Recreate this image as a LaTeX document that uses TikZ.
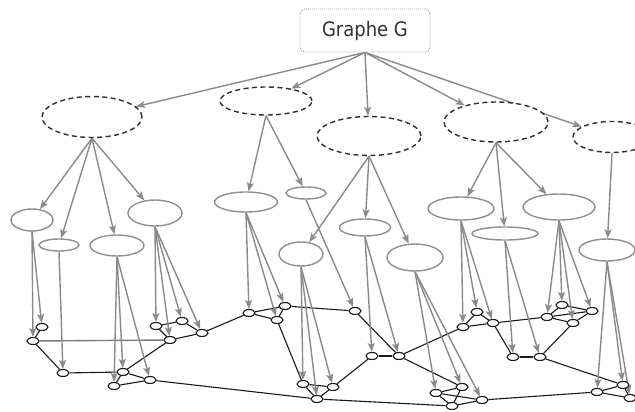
\documentclass[tikz,border=0pt]{standalone}
\usepackage{fontspec}
\newfontfamily\labelfont{DejaVu Sans Condensed}
\usetikzlibrary{shapes.geometric,arrows.meta}
\pgfdeclarelayer{bg}
\pgfsetlayers{bg,main}
\definecolor{arrowgray}{HTML}{8A8A8A}
\definecolor{ringgray}{HTML}{8F8F8F}
\definecolor{dashgray}{HTML}{2E2E2E}
\definecolor{boxgray}{HTML}{A0A0A0}
\definecolor{textgray}{HTML}{333333}
\definecolor{edgeblack}{HTML}{1A1A1A}
\definecolor{spangray}{HTML}{7A7A7A}

\tikzset{
  rootbox/.style={draw=boxgray, dash pattern=on 1pt off 1pt, line width=0.9pt,
    rounded corners=5pt, minimum width=130pt, minimum height=43pt, inner sep=0pt,
    font=\labelfont\fontsize{20}{22}\selectfont, text=textgray, fill=white},
  cluster/.style={ellipse, draw=dashgray, dash pattern=on 5pt off 3.5pt,
    line width=1.4pt, inner sep=0pt, fill=white},
  subpart/.style={ellipse, draw=ringgray, line width=1.4pt, inner sep=0pt, fill=white},
  vertex/.style={ellipse, draw=edgeblack, line width=1.1pt, minimum width=12pt,
    minimum height=7pt, inner sep=0pt, fill=white},
  link/.style={draw=arrowgray, line width=1.4pt,
    -{Stealth[length=9pt,width=7pt,inset=2pt]}},
  gedge/.style={draw=edgeblack, line width=1.1pt},
  sz/.style 2 args={minimum width=#1pt, minimum height=#2pt},
}

\begin{document}
\begin{tikzpicture}[x=1pt,y=-1pt]
\useasboundingbox (0,0) rectangle (635,412);
\clip (0,0) rectangle (635,412);

% root
\node[rootbox] (G) at (365,30.5) {Graphe G};

% first level: dashed clusters
\node[cluster, sz={100}{41}] (E1) at (92,117) {};
\node[cluster, sz={92}{28}]  (E2) at (266,101) {};
\node[cluster, sz={104}{39}] (E3) at (369,136) {};
\node[cluster, sz={104}{40}] (E4) at (496,122) {};
\node[cluster, sz={78}{31}]  (E5) at (612,137) {};

% second level: sub-parts
\node[subpart, sz={42}{22}] (A1) at (32,220) {};
\node[subpart, sz={40}{12}] (A2) at (59,245) {};
\node[subpart, sz={54}{21}] (A3) at (117,245.5) {};
\node[subpart, sz={54}{26}] (A4) at (155,213) {};
\node[subpart, sz={63}{20}] (B1) at (246,202) {};
\node[subpart, sz={40}{12}] (B2) at (306,193) {};
\node[subpart, sz={44}{24}] (C1) at (301,254) {};
\node[subpart, sz={51}{17}] (C2) at (365,227.5) {};
\node[subpart, sz={56}{27}] (C3) at (415,257.5) {};
\node[subpart, sz={66}{23}] (D1) at (461,208.5) {};
\node[subpart, sz={66}{13}] (D2) at (505,233.5) {};
\node[subpart, sz={72}{26}] (D3) at (559,207) {};
\node[subpart, sz={56}{22}] (F1) at (607,250) {};

% base graph vertices
\foreach \n/\x/\y in {
  n1/42/327, n2/33/341, n3/63/373, n4/123/372, n5/114/386, n6/150/380,
  n7/156/326, n8/182/321, n9/170/340, n10/202/333,
  m1/249/313, m2/285/306, m3/277/320, m4/355/311, m5/372/356, m6/399/356,
  m7/303/384, m8/333/387, m9/317/399,
  p1/463/327, p2/477/312, p3/493/323, p4/513/357, p5/540/357,
  p6/547/317, p7/562/305, p8/592/311, p9/573/323,
  q1/436/393, q2/462/387, q3/482/400, q4/452/406,
  r1/597/392, r2/623/385, r3/630/398}
  \node[vertex] (\n) at (\x,\y) {};

\begin{pgfonlayer}{bg}
  % base graph edges
  \draw[draw=spangray, line width=1.4pt] (n2) -- (n9);
  \foreach \a/\b in {n1/n2, n2/n3, n3/n4, n4/n9, n4/n5, n4/n6, n5/n6, n6/m9,
    n7/n8, n8/n10, n7/n9, n9/n10, n10/m1,
    m1/m2, m1/m3, m2/m3, m2/m4, m4/m6, m5/m6, m5/m8, m3/m7,
    m7/m9, m8/m9, m7/m8, m9/q4,
    m6/p1, m6/q2, p1/p2, p2/p3, p1/p3, p3/p6, p3/p4, p4/p5, p5/p9,
    p6/p7, p7/p8, p8/p9, p6/p9, p6/p8, p5/r2,
    q1/q2, q1/q3, q1/q4, q2/q4, q4/q3, q3/r1, r1/r2, r1/r3, r2/r3}
    \draw[gedge] (\a) -- (\b);

  % hierarchy arrows
  \foreach \t in {E1,E2,E3,E4,E5}
    \draw[link] (G.south) -- (\t);
  \foreach \s/\t in {E1/A1, E1/A2, E1/A3, E1/A4, E2/B1, E2/B2,
    E3/C1, E3/C2, E3/C3, E4/D1, E4/D2, E4/D3, E5/F1,
    A1/n1, A1/n2, A2/n3, A3/n4, A3/n5, A3/n6,
    A4/n7, A4/n8, A4/n9, A4/n10,
    B1/m1, B1/m2, B1/m3, B2/m4,
    C1/m7, C1/m8, C1/m9, C2/m5, C2/m6, C3/q1, C3/q2, C3/q3,
    D1/p1, D1/p2, D1/p3, D2/p4, D2/p5,
    D3/p6, D3/p7, D3/p8, D3/p9,
    F1/r1, F1/r2, F1/r3}
    \draw[link] (\s.south) -- (\t);
\end{pgfonlayer}
\end{tikzpicture}
\end{document}
